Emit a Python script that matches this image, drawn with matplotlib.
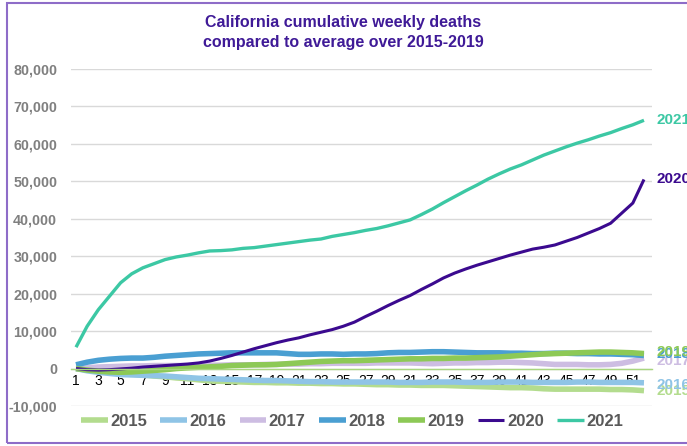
import numpy as np
import matplotlib.pyplot as plt
from matplotlib.patches import Rectangle

plt.rcParams['font.family'] = ['Liberation Sans', 'DejaVu Sans']

# Datos: semanas y muertes acumuladas respecto al promedio 2015-2019
weeks = list(range(1, 53))
years = ['2015', '2016', '2017', '2018', '2019', '2020', '2021']

y2015 = [0, -300, -600, -900, -1200, -1500, -1700, -2000, -2200, -2500,
         -2700, -3000, -3300, -3400, -3500, -3600, -3700, -3700, -3800, -3800,
         -3900, -3900, -4000, -4000, -4100, -4100, -4200, -4300, -4300, -4400,
         -4400, -4500, -4500, -4500, -4600, -4700, -4800, -4900, -5000, -5100,
         -5100, -5200, -5400, -5500, -5500, -5500, -5500, -5500, -5600, -5600,
         -5700, -5900]
y2016 = [0, -600, -1000, -1300, -1600, -1700, -1800, -1900, -2000, -2200,
         -2400, -2600, -2700, -2800, -2900, -3000, -3100, -3200, -3200, -3300,
         -3400, -3500, -3500, -3600, -3600, -3600, -3600, -3600, -3600, -3700,
         -3700, -3700, -3600, -3600, -3600, -3700, -3700, -3700, -3600, -3600,
         -3600, -3700, -3700, -3700, -3700, -3600, -3600, -3700, -3700, -3700,
         -3700, -3800]
y2017 = [0, 200, 400, 500, 600, 700, 700, 800, 800, 800,
         800, 800, 900, 900, 1000, 1000, 1000, 1100, 1100, 1200,
         1200, 1300, 1300, 1400, 1400, 1400, 1400, 1500, 1500, 1500,
         1500, 1400, 1300, 1400, 1500, 1500, 1600, 1600, 1700, 1700,
         1600, 1500, 1300, 1100, 1100, 1100, 1000, 1000, 1100, 1400,
         2000, 2800]
y2018 = [1000, 1700, 2200, 2500, 2700, 2800, 2800, 3000, 3300, 3500,
         3700, 3900, 4000, 4100, 4200, 4200, 4200, 4200, 4200, 4000,
         3800, 3800, 3900, 3900, 3800, 3900, 3900, 4000, 4200, 4300,
         4300, 4400, 4500, 4500, 4400, 4300, 4200, 4200, 4200, 4100,
         4100, 4000, 4000, 4100, 4100, 4000, 4000, 3900, 3900, 3800,
         3700, 3500]
y2019 = [0, -400, -700, -900, -1000, -900, -700, -500, -300, 0,
         200, 350, 450, 600, 800, 900, 1000, 1000, 1100, 1300,
         1500, 1700, 1900, 2000, 2100, 2100, 2200, 2300, 2400, 2500,
         2600, 2600, 2700, 2700, 2800, 2800, 2900, 3000, 3100, 3300,
         3500, 3700, 3900, 4000, 4100, 4200, 4300, 4400, 4400, 4300,
         4200, 4000]
y2020 = [0, -300, -400, -300, -100, 100, 400, 600, 800, 1000,
         1200, 1500, 2000, 2700, 3500, 4400, 5300, 6100, 6900, 7600,
         8200, 9000, 9700, 10400, 11300, 12400, 13900, 15300, 16800, 18200,
         19500, 21100, 22600, 24200, 25500, 26600, 27600, 28500, 29400, 30300,
         31100, 31900, 32400, 33000, 34000, 35000, 36200, 37400, 38800, 41500,
         44200, 50500]
y2021 = [5700, 11300, 15700, 19300, 22900, 25300, 26900, 28000, 29100, 29800,
         30300, 30900, 31400, 31500, 31700, 32100, 32300, 32700, 33100, 33500,
         33900, 34300, 34600, 35300, 35800, 36300, 36900, 37400, 38100, 38900,
         39700, 41100, 42600, 44300, 45900, 47500, 49000, 50600, 52000, 53300,
         54400, 55700, 57000, 58100, 59200, 60200, 61100, 62100, 63000, 64100,
         65100, 66300]

series = [y2015, y2016, y2017, y2018, y2019, y2020, y2021]
colors = ['#b3dc8e', '#8fc4e6', '#cdbde2', '#4a9fd2', '#8dc956', '#3b0a8f', '#3cc8a4']
widths = [4.0, 4.0, 4.0, 4.0, 4.0, 2.2, 2.4]
# posición vertical de las etiquetas de la derecha
label_y = [-6000, -4300, 2000, 3900, 4300, 50500, 66300]

fig = plt.figure(figsize=(6.87, 4.46), dpi=100)
ax = fig.add_axes([71/687, 1-406/446, (652-71)/687, (406-69)/446])

for yr, vals, c, lw in zip(years, series, colors, widths):
    ax.plot(weeks, vals, color=c, linewidth=lw, label=yr, solid_capstyle='butt')

for yr, c, ly in zip(years, colors, label_y):
    ax.text(53.15, ly, yr, color=c, fontsize=11, fontweight='bold',
            va='center', ha='left', clip_on=False)

ax.set_xlim(0.55, 52.72)
ax.set_ylim(-10000, 80000)
ax.set_yticks(np.arange(-10000, 80001, 10000))
ax.set_yticklabels([f'{v:,}' for v in range(-10000, 80001, 10000)],
                   fontsize=10.3, fontweight='bold', color='#808080')
ax.set_xticks(weeks[::2])
ax.set_xticklabels([str(w) for w in weeks[::2]], fontsize=6.8, color='#666666')
ax.tick_params(axis='both', length=0)
ax.tick_params(axis='y', pad=10)
ax.tick_params(axis='x', pad=4)
ax.grid(axis='y', color='#d9d9d9', linewidth=1)
ax.set_axisbelow(True)
for s in ['top', 'right', 'left']:
    ax.spines[s].set_visible(False)
ax.spines['bottom'].set_position(('data', 0))
ax.spines['bottom'].set_color('#a9d67f')
ax.spines['bottom'].set_linewidth(1)

fig.text(0.5, 1-15/446, 'California cumulative weekly deaths\ncompared to average over 2015-2019',
         ha='center', va='top', fontsize=11.5, fontweight='bold', color='#3f1a97',
         linespacing=1.45)

leg = fig.legend(loc='center', bbox_to_anchor=(352/687, 1-421/446), ncol=7,
                 frameon=False, handlelength=1.6, handletextpad=0.15,
                 columnspacing=0.8, prop={'size': 12, 'weight': 'bold'})
for t in leg.get_texts():
    t.set_color('#595959')

fig.patches.append(Rectangle((7/687, 3/446), 1, 1-6/446, transform=fig.transFigure,
                             fill=False, edgecolor='#8e6cc8', linewidth=1.5))

plt.savefig('out.png', dpi=100)
